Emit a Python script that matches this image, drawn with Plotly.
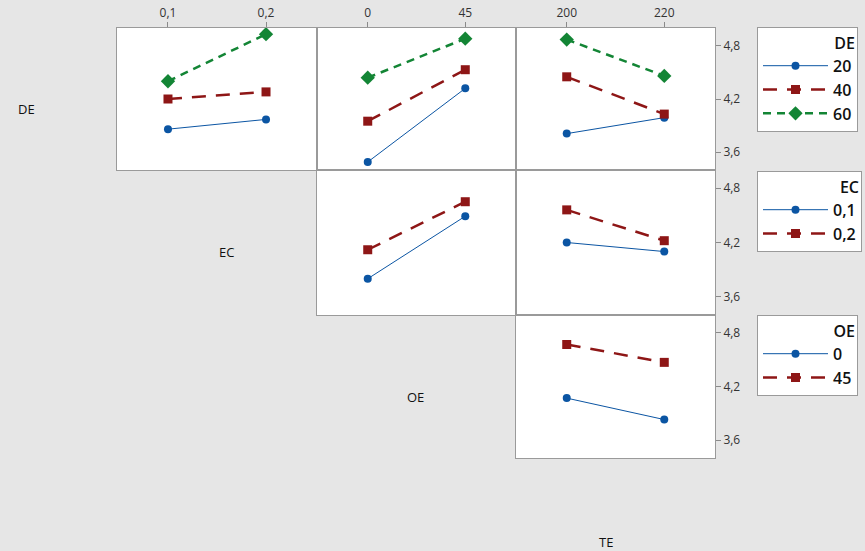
import plotly.graph_objects as go

# ---- data ----
factors = ["DE", "EC", "OE", "TE"]
levels = {
    "DE": ["20", "40", "60"],
    "EC": ["0,1", "0,2"],
    "OE": ["0", "45"],
    "TE": ["200", "220"],
}
# mean response for (trace factor, x factor): one list per trace level
de_by_ec = [[3.86, 3.97], [4.20, 4.28], [4.40, 4.93]]
de_by_oe = [[3.49, 4.32], [3.95, 4.53], [4.44, 4.88]]
de_by_te = [[3.81, 3.99], [4.45, 4.03], [4.87, 4.46]]
ec_by_oe = [[3.80, 4.49], [4.12, 4.65]]
ec_by_te = [[4.20, 4.10], [4.56, 4.22]]
oe_by_te = [[4.07, 3.83], [4.67, 4.47]]

y_ticks = [3.6, 4.2, 4.8]
y_tick_text = ["3,6", "4,2", "4,8"]

panels = [
    # (row, col, trace factor, x factor, data)
    (1, 1, "DE", "EC", de_by_ec),
    (1, 2, "DE", "OE", de_by_oe),
    (1, 3, "DE", "TE", de_by_te),
    (2, 2, "EC", "OE", ec_by_oe),
    (2, 3, "EC", "TE", ec_by_te),
    (3, 3, "OE", "TE", oe_by_te),
]

colors = ["#0b55a3", "#8e1616", "#138535"]
symbols = ["circle", "square", "diamond"]
msizes = [8, 9, 11]
widths = [1, 2.5, 2.5]
dash_patterns = ["solid", "14px,10px", "8px,6px"]

W, H = 865, 551
col_px = [(117, 317), (317, 516), (516, 715)]
row_px = [(28, 170), (170, 315), (315, 458)]

fig = go.Figure()
legend_name = {"DE": "legend", "EC": "legend2", "OE": "legend3"}
shown = set()

for idx, (r, c, tf, xf, data) in enumerate(panels, start=1):
    xa = "x" if idx == 1 else f"x{idx}"
    ya = "y" if idx == 1 else f"y{idx}"
    x0, x1 = col_px[c - 1]
    y0, y1 = row_px[r - 1]
    for li, vals in enumerate(data):
        fig.add_trace(go.Scatter(
            x=levels[xf], y=vals, xaxis=xa, yaxis=ya,
            mode="lines+markers",
            name=levels[tf][li],
            legend=legend_name[tf],
            showlegend=(tf, li) not in shown,
            line=dict(color=colors[li], width=widths[li], dash=dash_patterns[li]),
            marker=dict(color=colors[li], symbol=symbols[li], size=msizes[li]),
            hoverinfo="skip",
        ))
        shown.add((tf, li))
    xkey = "xaxis" if idx == 1 else f"xaxis{idx}"
    ykey = "yaxis" if idx == 1 else f"yaxis{idx}"
    fig.layout[xkey] = dict(
        domain=[x0 / W, x1 / W], anchor=ya, type="category",
        range=[-0.52, 1.52], side="top",
        showticklabels=(r == 1), ticks="outside" if r == 1 else "",
        ticklen=5, tickcolor="#8a8a8a",
        showline=True, mirror=True, linecolor="#9a9a9a", linewidth=1,
        showgrid=False, zeroline=False,
        tickfont=dict(family="Open Sans", size=12, color="#333333"),
        fixedrange=True,
    )
    fig.layout[ykey] = dict(
        domain=[1 - y1 / H, 1 - y0 / H], anchor=xa,
        range=[3.4, 5.0], side="right",
        tickvals=y_ticks, ticktext=y_tick_text,
        showticklabels=(c == 3), ticks="outside" if c == 3 else "",
        ticklen=5, tickcolor="#8a8a8a",
        showline=True, mirror=True, linecolor="#9a9a9a", linewidth=1,
        showgrid=False, zeroline=False,
        tickfont=dict(family="Open Sans", size=12, color="#333333"),
        fixedrange=True,
    )

# diagonal factor labels
label_pos = [(16, 109), (217, 252), (415, 397), (615, 542)]
for name, (px, py) in zip(factors, label_pos):
    fig.add_annotation(x=px / W, y=1 - py / H, xref="paper", yref="paper",
                       text=name, showarrow=False, yanchor="middle",
                       font=dict(family="Open Sans", size=13, color="#111111"))

leg_common = dict(
    xanchor="left", yanchor="top", bgcolor="white",
    bordercolor="#9a9a9a", borderwidth=1, itemwidth=65,
    font=dict(family="Open Sans", size=16, color="#111111", weight=600),
    tracegroupgap=0,
)
title_font = dict(family="Open Sans", size=16, color="#111111", weight=600)
fig.update_layout(
    width=W, height=H,
    margin=dict(l=0, r=0, t=0, b=0),
    paper_bgcolor="#e6e6e6", plot_bgcolor="white",
    legend=dict(x=757 / W, y=1 - 27 / H,
                title=dict(text="DE", side="top right", font=title_font), **leg_common),
    legend2=dict(x=757 / W, y=1 - 171 / H,
                 title=dict(text="EC", side="top right", font=title_font), **leg_common),
    legend3=dict(x=757 / W, y=1 - 315 / H,
                 title=dict(text="OE", side="top right", font=title_font), **leg_common),
)

fig.write_html("out.html")
